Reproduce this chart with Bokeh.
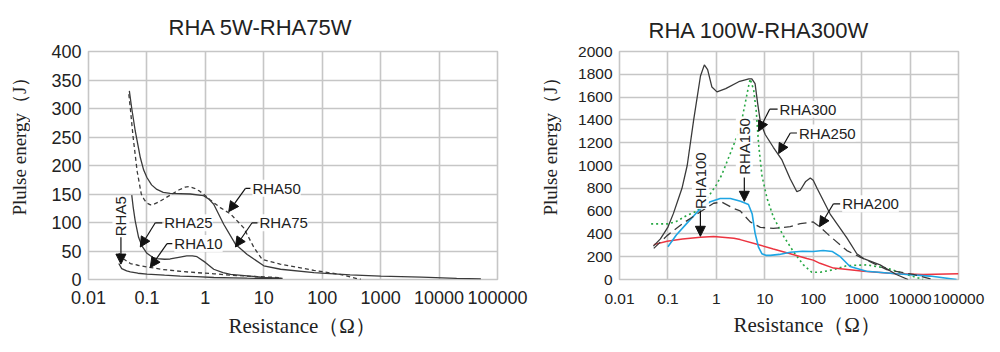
import math
from bokeh.plotting import figure
from bokeh.layouts import row
from bokeh.models import (FixedTicker, CustomJSTickFormatter, Label, Arrow, NormalHead,
                          Title, Range1d)
from bokeh.core.properties import value
from bokeh.embed import file_html
from bokeh.resources import INLINE

# ---------------- data: left chart (RHA 5W - RHA75W) ----------------
rha5_x = [0.033, 0.037, 0.045, 0.052, 0.07, 0.1, 0.2, 0.37, 0.7, 1.4, 3, 5.2, 10, 20]
rha5_y = [28, 19, 15, 13.5, 11, 9.4, 7.5, 6, 5, 3.5, 3, 2.3, 2, 1.8]

rha10_x = [0.033, 0.04, 0.052, 0.07, 0.1, 0.19, 0.4, 0.72, 1.4, 2.7, 5, 10, 20]
rha10_y = [46, 36, 28, 25, 22, 17.5, 14, 12, 10, 7.6, 6, 4.7, 3]

rha25_x = [0.055, 0.058, 0.063, 0.068, 0.072, 0.082, 0.1, 0.125, 0.148, 0.2, 0.25, 0.35,
           0.48, 0.6, 0.72, 1.0, 1.39, 2, 2.7, 5.2, 10, 21]
rha25_y = [148, 128, 103, 86, 74, 59, 46, 39, 36.5, 35.5, 36, 39, 41.5, 41.5, 40, 30, 18,
           12, 9, 6.5, 3.5, 2]

rha50_x = [0.049, 0.052, 0.058, 0.068, 0.08, 0.09, 0.1, 0.115, 0.13, 0.16, 0.2, 0.27, 0.35,
           0.45, 0.52, 0.65, 0.8, 0.93, 1.2, 1.8, 2.7, 4.5, 6.8, 9.4, 19, 72, 200, 460]
rha50_y = [325, 300, 250, 190, 150, 140, 134, 131, 132, 136, 142, 150, 157, 162, 163,
           160, 155, 150, 140, 126, 115, 91, 56, 35, 27, 16, 9, 0]

rha75_x = [0.05, 0.055, 0.063, 0.077, 0.088, 0.1, 0.12, 0.148, 0.19, 0.25, 0.55, 0.93,
           1.15, 1.39, 2.06, 3.27, 5.2, 10, 19.4, 72, 300, 1000, 5000, 20000, 52000]
rha75_y = [331, 300, 261, 214, 192, 179, 166, 158, 153, 151, 150, 147, 141, 132, 97, 62,
           44, 24, 18, 12, 8, 6, 4, 2, 1]

# ---------------- data: right chart (RHA 100W - RHA300W) ----------------
rha100_x = [0.051, 0.096, 0.2, 0.47, 0.88, 2.3, 3.1, 6.9, 15, 33.6, 74, 100, 138, 263,
            1100, 5250, 18600, 100000]
rha100_y = [306, 335, 355, 371, 377, 362, 350, 309, 268, 226, 184, 170, 142, 100, 72, 50,
            44, 50]

rha150_x = [0.1, 0.149, 0.24, 0.45, 0.75, 1.2, 1.95, 3.16, 4.6, 5.5, 6.3, 7.45, 8.7, 10.5,
            13, 20, 33.6, 60, 100, 160, 250, 363, 575, 1260, 5250, 25700, 91000]
rha150_y = [287, 390, 488, 614, 683, 711, 711, 686, 658, 574, 407, 281, 226, 212, 212, 220,
            239, 248, 245, 254, 245, 200, 114, 72, 50, 30, 0]

rha200_x = [0.051, 0.096, 0.21, 0.47, 0.88, 1.3, 2.3, 3.1, 5.0, 8.1, 15, 33.6, 54, 100,
            135, 224, 495, 930, 3300, 11700, 30000]
rha200_y = [273, 385, 496, 594, 669, 678, 622, 602, 505, 457, 449, 463, 490, 505, 463, 379,
            254, 197, 86, 44, 0]

rha250_x = [0.05, 0.07, 0.1, 0.13, 0.195, 0.25, 0.34, 0.47, 0.565, 0.66, 0.81, 1.03, 1.56,
            2.9, 4.7, 5.4, 6.3, 7.1, 8.1, 10.2, 15, 22.6, 33.6, 46, 54, 70, 87, 100, 120,
            224, 495, 795, 1100, 2400, 5200, 9100]
rha250_y = [293, 356, 460, 580, 800, 1000, 1400, 1785, 1883, 1841, 1688, 1646, 1674, 1735,
            1760, 1760, 1718, 1550, 1383, 1272, 1160, 1049, 881, 770, 783, 860, 890, 870,
            800, 574, 365, 226, 184, 128, 44, 0]

rha300_x = [0.045, 0.1, 0.15, 0.24, 0.4, 0.6, 1.0, 1.3, 2.0, 3.1, 4.0, 4.6, 5.0, 5.9,
            6.7, 7.45, 8.75, 11.1, 15.1, 24.5, 39.8, 63, 93, 140, 263, 500, 1260, 3300,
            8500, 18600]
rha300_y = [488, 488, 510, 560, 600, 690, 830, 920, 1120, 1327, 1560, 1690, 1760, 1662,
            1467, 1188, 909, 714, 546, 379, 239, 128, 64, 64, 86, 122, 128, 100, 44, 0]

x_ticks = [0.01, 0.1, 1, 10, 100, 1000, 10000, 100000]
left_y_ticks = list(range(0, 401, 50))
right_y_ticks = list(range(0, 2001, 200))
y_title = "Plulse energy（J）"
x_title = "Resistance（Ω）"

SANS = "Liberation Sans"
SERIF = "Liberation Serif"
INK = "#222222"
CURVE = "#3a3a3a"
GRID = "#c6c6c6"
H = 352


def label_strip(width, cx, cy):
    """Narrow figure holding the rotated y-axis title."""
    s = figure(width=width, height=H, x_range=Range1d(0, width), y_range=Range1d(0, H),
               output_backend="svg", toolbar_location=None, min_border=0)
    s.axis.visible = False
    s.grid.visible = False
    s.outline_line_color = None
    s.text(x=[cx], y=[H - cy], text=[y_title], angle=math.pi / 2,
           text_font=value(SERIF), text_font_size="19px", text_color=INK,
           text_align="center", text_baseline="middle")
    return s


def base_fig(width, ymax, yticks, title, title_offset, title_standoff, tick_size,
             b_left, b_right, b_top, b_bottom, xlab_offset, xlab_standoff, xtick_standoff):
    p = figure(width=width, height=H, x_axis_type="log",
               x_range=Range1d(0.01, 100000), y_range=Range1d(0, ymax),
               output_backend="svg", toolbar_location=None,
               min_border_left=b_left, min_border_right=b_right,
               min_border_top=b_top, min_border_bottom=b_bottom)
    p.title.text = title
    p.title.align = "left"
    p.title.offset = title_offset
    p.title.text_font = SANS
    p.title.text_font_size = "22px"
    p.title.text_font_style = "normal"
    p.title.text_color = INK
    p.title.standoff = title_standoff
    p.outline_line_color = GRID
    p.outline_line_width = 1.6
    p.background_fill_color = "white"
    p.border_fill_color = "white"

    p.xaxis.ticker = FixedTicker(ticks=x_ticks, minor_ticks=[])
    p.xaxis.formatter = CustomJSTickFormatter(code="return String(tick)")
    p.yaxis.ticker = FixedTicker(ticks=yticks, minor_ticks=[])
    for ax in (p.xaxis, p.yaxis):
        ax.major_tick_out = 0
        ax.major_tick_in = 0
        ax.minor_tick_out = 0
        ax.minor_tick_in = 0
        ax.axis_line_color = None
        ax.major_label_text_font = SANS
        ax.major_label_text_font_size = tick_size
        ax.major_label_text_color = INK
    p.xaxis.major_label_standoff = xtick_standoff
    p.yaxis.major_label_standoff = 7

    p.add_layout(Title(text=x_title, align="left", offset=xlab_offset,
                       text_font=SERIF, text_font_size="21px", text_font_style="normal",
                       text_color=INK, standoff=xlab_standoff), "below")
    p.grid.grid_line_color = GRID
    p.grid.grid_line_width = 1.6
    return p


def callout(p, text, tx, ty, ex, tip_x, tip_y):
    p.segment(x0=[ex], y0=[ty], x1=[tx], y1=[ty], line_color="#111111", line_width=1.2)
    p.add_layout(Arrow(end=NormalHead(size=10, fill_color="#111111", line_color="#111111"),
                       x_start=ex, y_start=ty, x_end=tip_x, y_end=tip_y,
                       line_color="#111111", line_width=1.2))
    p.add_layout(Label(x=tx, y=ty, text=text, x_offset=2, text_font=SANS,
                       text_font_size="15px", text_color=INK, text_baseline="middle",
                       text_align="left", background_fill_color="white",
                       background_fill_alpha=0.9))


def vcallout(p, text, x, ty, y0, tip_y):
    p.add_layout(Arrow(end=NormalHead(size=10, fill_color="#111111", line_color="#111111"),
                       x_start=x, y_start=y0, x_end=x, y_end=tip_y,
                       line_color="#111111", line_width=1.2))
    p.add_layout(Label(x=x, y=ty, text=text, angle=math.pi / 2, text_font=SANS,
                       text_font_size="15px", text_color=INK, text_baseline="middle",
                       text_align="center", background_fill_color="white",
                       background_fill_alpha=0.9))


# ---------------- left chart ----------------
s1 = label_strip(30, 19, 139)
p1 = base_fig(507, 400, left_y_ticks, "RHA 5W-RHA75W", 80, 23, "18px",
              58, 40, 51, 73, 140, 10, 11)
p1.line(rha5_x, rha5_y, line_color=CURVE, line_width=1.3)
p1.line(rha10_x, rha10_y, line_color=CURVE, line_width=1.3, line_dash="4 3")
p1.line(rha25_x, rha25_y, line_color=CURVE, line_width=1.3)
p1.line(rha50_x, rha50_y, line_color=CURVE, line_width=1.3, line_dash="4 3")
p1.line(rha75_x, rha75_y, line_color=CURVE, line_width=1.3)

vcallout(p1, "RHA5", 0.0359, 111, 74, 27)
callout(p1, "RHA25", 0.183, 99.5, 0.139, 0.077, 57)
callout(p1, "RHA10", 0.272, 63, 0.221, 0.114, 21)
callout(p1, "RHA50", 5.9, 160, 4.86, 2.51, 119)
callout(p1, "RHA75", 7.8, 99.5, 6.3, 3.27, 57)

# ---------------- right chart ----------------
s2 = label_strip(28, 13, 139)
p2 = base_fig(435, 2000, right_y_ticks, "RHA 100W-RHA300W", 29, 17, "15.5px",
              54, 42, 48, 66, 114, 9, 14)
p2.line(rha300_x, rha300_y, line_color="#27a844", line_width=1.6, line_dash="2 3")
p2.line(rha100_x, rha100_y, line_color="#ec3440", line_width=1.5)
p2.line(rha150_x, rha150_y, line_color="#1ea5e3", line_width=1.6)
p2.line(rha200_x, rha200_y, line_color=CURVE, line_width=1.3, line_dash="9 5")
p2.line(rha250_x, rha250_y, line_color=CURVE, line_width=1.3)

callout(p2, "RHA300", 18.4, 1494, 12.6, 7.45, 1300)
callout(p2, "RHA250", 46.1, 1285, 33.6, 19.3, 1105)
callout(p2, "RHA200", 360, 664, 262, 135, 463)
vcallout(p2, "RHA150", 3.78, 1167, 895, 686)
vcallout(p2, "RHA100", 0.468, 867, 605, 379)

layout = row(s1, p1, s2, p2)
open("out.html", "w").write(file_html(layout, INLINE))
